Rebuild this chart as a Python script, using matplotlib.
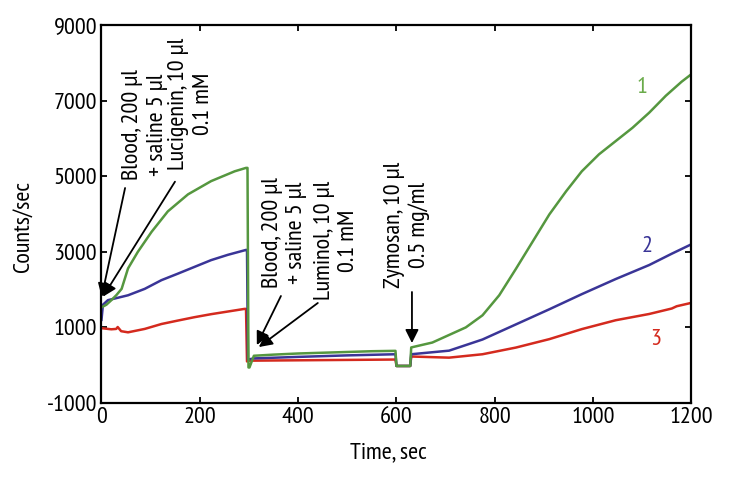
import matplotlib
matplotlib.use("Agg")
from matplotlib import pyplot as plt

plt.rcParams['font.family'] = ['PT Sans Narrow', 'Fira Sans Condensed', 'DejaVu Sans']
plt.rcParams['axes.unicode_minus'] = False

# curve 1 (green)
green_t = [0, 10, 20, 30, 41, 54, 74, 102, 135, 176, 223, 271, 294, 297, 299, 301, 310, 350, 400, 450, 500, 550, 598,
           600, 628, 630, 673, 741, 775, 809, 843, 877, 911, 945, 977, 1012, 1046, 1080, 1114, 1148, 1180, 1200]
green_v = [1530, 1600, 1720, 1850, 2020, 2560, 3000, 3530, 4070, 4520, 4870, 5130, 5220, 5220, -60, -60, 250, 280, 310,
           330, 350, 370, 380, -20, -20, 470, 600, 1000, 1320, 1850, 2550, 3270, 3990, 4600, 5130, 5580, 5930, 6280,
           6680, 7130, 7500, 7700]

# curve 2 (blue)
blue_t = [0, 3, 13, 54, 88, 122, 155, 189, 223, 257, 294, 296, 298, 310, 400, 500, 598, 600, 628, 630, 707, 775, 843,
          911, 977, 1046, 1114, 1160, 1200]
blue_v = [1200, 1600, 1720, 1850, 2020, 2250, 2420, 2600, 2780, 2920, 3050, 3050, 150, 180, 220, 260, 290, -20, -20,
          290, 385, 680, 1080, 1480, 1880, 2280, 2650, 2950, 3200]

# curve 3 (red)
red_t = [0, 20, 30, 33, 40, 54, 88, 122, 155, 189, 223, 257, 291, 294, 296, 300, 400, 500, 598, 600, 628, 630, 707,
         775, 843, 911, 977, 1046, 1114, 1160, 1170, 1200]
red_v = [980, 950, 960, 1010, 900, 870, 960, 1090, 1180, 1270, 1350, 1420, 1490, 1490, 100, 120, 130, 140, 150, -20,
         -20, 230, 200, 290, 467, 690, 955, 1190, 1355, 1500, 1560, 1650]

x_ticks = [0, 200, 400, 600, 800, 1000, 1200]
y_ticks = [-1000, 1000, 3000, 5000, 7000, 9000]

fs = 17.5

fig = plt.figure(figsize=(7.29, 4.8), dpi=100)
ax = fig.add_axes([0.1392, 0.1604, 0.8093, 0.7875])

ax.plot(red_t, red_v, color="#d42a1e", lw=1.8)
ax.plot(blue_t, blue_v, color="#3a3597", lw=1.8)
ax.plot(green_t, green_v, color="#55973f", lw=1.8)

ax.set_xlim(0, 1200)
ax.set_ylim(-1000, 9000)
ax.set_xticks(x_ticks)
ax.set_yticks(y_ticks)
ax.tick_params(direction="in", length=4, width=1.3, top=True, right=True, labelsize=fs, pad=3)
for s in ax.spines.values():
    s.set_linewidth(1.6)
ax.set_xlabel("Time, sec", fontsize=fs)
ax.set_ylabel("Counts/sec", fontsize=fs)
ax.xaxis.set_label_coords(0.486, -0.105)
ax.yaxis.set_label_coords(-0.115, 0.468)

ax.text(1100, 7350, "1", color="#6aab4a", fontsize=fs, ha="center", va="center")
ax.text(1110, 3130, "2", color="#3a3597", fontsize=fs, ha="center", va="center")
ax.text(1128, 680, "3", color="#d42a1e", fontsize=fs, ha="center", va="center")

arr = dict(arrowstyle="-|>", color="black", lw=1.3, mutation_scale=20, shrinkA=0, shrinkB=0)

# first injection
ax.text(88.5, 4900, "Blood, 200 µl\n+ saline 5 µl", rotation=90, fontsize=fs, ha="center", va="bottom")
ax.text(182, 5164, "Lucigenin, 10 µl\n0.1 mM", rotation=90, fontsize=fs, ha="center", va="bottom")
ax.annotate("", xy=(0.4, 1812), xytext=(48, 4688), arrowprops=arr)
ax.annotate("", xy=(3, 1812), xytext=(149.5, 4855), arrowprops=arr)

# second injection
ax.text(372, 2042, "Blood, 200 µl\n+ saline 5 µl", rotation=90, fontsize=fs, ha="center", va="bottom")
ax.text(478, 1725, "Luminol, 10 µl\n0.1 mM", rotation=90, fontsize=fs, ha="center", va="bottom")
ax.annotate("", xy=(316, 534), xytext=(365, 1831), arrowprops=arr)
ax.annotate("", xy=(320, 481), xytext=(440, 1646), arrowprops=arr)

# zymosan
ax.text(622, 2042, "Zymosan, 10 µl\n0.5 mg/ml", rotation=90, fontsize=fs, ha="center", va="bottom")
ax.annotate("", xy=(631.5, 587), xytext=(631.5, 1937), arrowprops=arr)

fig.savefig("out.png", dpi=100)
